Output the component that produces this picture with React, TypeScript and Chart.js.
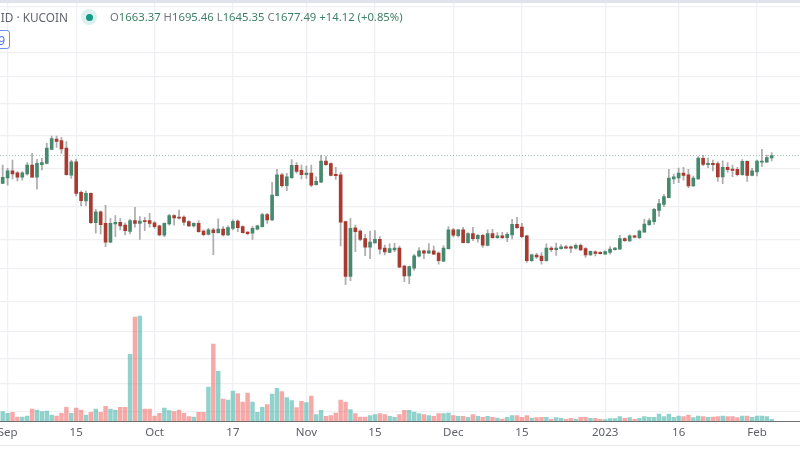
import { useEffect, useRef } from 'react';
import { Chart, registerables } from 'chart.js';

Chart.register(...registerables);

// daily ETH candles, 31 Aug 2022 -> 4 Feb 2023
const opens = [
  1521, 1550, 1589, 1578, 1554, 1572, 1622, 1554, 1624, 1632,
  1714, 1777, 1767, 1722, 1566, 1641, 1474, 1430, 1469, 1325,
  1376, 1322, 1238, 1319, 1327, 1314, 1285, 1335, 1322, 1335,
  1335, 1325, 1311, 1268, 1319, 1358, 1352, 1352, 1330, 1310,
  1322, 1287, 1272, 1292, 1280, 1296, 1269, 1299, 1333, 1307,
  1282, 1277, 1295, 1307, 1363, 1338, 1457, 1568, 1509, 1552,
  1620, 1592, 1568, 1577, 1514, 1527, 1645, 1630, 1570, 1568,
  1330, 1097, 1301, 1287, 1253, 1216, 1234, 1250, 1212, 1194,
  1204, 1212, 1138, 1099, 1130, 1178, 1201, 1191, 1201, 1191,
  1158, 1210, 1292, 1266, 1292, 1235, 1275, 1253, 1268, 1224,
  1275, 1257, 1265, 1257, 1269, 1317, 1305, 1265, 1160, 1183,
  1179, 1160, 1212, 1205, 1210, 1217, 1217, 1212, 1224, 1210,
  1183, 1196, 1194, 1187, 1194, 1205, 1208, 1253, 1243, 1265,
  1257, 1282, 1316, 1330, 1384, 1413, 1447, 1545, 1550, 1577,
  1568, 1507, 1545, 1661, 1624, 1632, 1630, 1556, 1609, 1600,
  1598, 1568, 1643, 1564, 1583, 1639, 1639, 1663.37,
];
const highs = [
  1622, 1604, 1651, 1585, 1585, 1636, 1690, 1655, 1661, 1751,
  1796, 1796, 1788, 1761, 1651, 1655, 1481, 1481, 1472, 1389,
  1382, 1408, 1346, 1358, 1346, 1325, 1341, 1399, 1354, 1350,
  1369, 1330, 1314, 1325, 1365, 1363, 1385, 1357, 1335, 1325,
  1335, 1292, 1299, 1299, 1343, 1307, 1310, 1338, 1338, 1310,
  1284, 1307, 1314, 1369, 1369, 1527, 1598, 1576, 1576, 1654,
  1637, 1622, 1617, 1622, 1557, 1678, 1671, 1636, 1609, 1581,
  1333, 1346, 1314, 1292, 1272, 1287, 1289, 1262, 1225, 1230,
  1233, 1221, 1142, 1138, 1186, 1214, 1204, 1231, 1221, 1196,
  1223, 1307, 1299, 1295, 1304, 1280, 1304, 1272, 1272, 1292,
  1295, 1280, 1281, 1280, 1341, 1350, 1322, 1269, 1187, 1190,
  1193, 1230, 1218, 1234, 1227, 1224, 1221, 1230, 1230, 1214,
  1201, 1200, 1197, 1200, 1218, 1215, 1268, 1257, 1270, 1268,
  1292, 1342, 1344, 1393, 1438, 1464, 1598, 1572, 1605, 1609,
  1598, 1561, 1671, 1678, 1663, 1651, 1641, 1647, 1636, 1622,
  1609, 1654, 1647, 1603, 1651, 1714, 1680, 1695.46,
];
const lows = [
  1519, 1512, 1545, 1534, 1539, 1566, 1552, 1490, 1594, 1628,
  1710, 1726, 1690, 1566, 1548, 1455, 1405, 1407, 1322, 1277,
  1274, 1218, 1235, 1262, 1292, 1269, 1274, 1304, 1250, 1289,
  1304, 1299, 1265, 1262, 1314, 1314, 1343, 1314, 1307, 1304,
  1281, 1265, 1269, 1184, 1277, 1265, 1266, 1292, 1284, 1277,
  1269, 1250, 1292, 1304, 1322, 1335, 1455, 1501, 1483, 1548,
  1576, 1545, 1548, 1504, 1512, 1525, 1620, 1561, 1543, 1221,
  1066, 1081, 1197, 1243, 1180, 1168, 1233, 1186, 1183, 1193,
  1197, 1132, 1077, 1070, 1122, 1175, 1168, 1190, 1184, 1146,
  1156, 1207, 1260, 1260, 1234, 1233, 1244, 1238, 1215, 1221,
  1254, 1254, 1253, 1240, 1252, 1299, 1257, 1153, 1157, 1169,
  1146, 1158, 1197, 1181, 1207, 1211, 1193, 1208, 1201, 1173,
  1181, 1179, 1187, 1186, 1187, 1203, 1207, 1241, 1241, 1256,
  1253, 1281, 1313, 1317, 1355, 1402, 1445, 1520, 1525, 1539,
  1499, 1505, 1543, 1619, 1607, 1589, 1532, 1520, 1581, 1557,
  1561, 1564, 1532, 1561, 1561, 1613, 1637, 1645.35,
];
const closes = [
  1554, 1589, 1572, 1554, 1578, 1622, 1554, 1632, 1636, 1722,
  1780, 1763, 1716, 1568, 1641, 1469, 1432, 1469, 1325, 1376,
  1316, 1238, 1322, 1327, 1310, 1289, 1335, 1322, 1333, 1330,
  1322, 1307, 1269, 1322, 1358, 1347, 1346, 1328, 1310, 1322,
  1284, 1270, 1292, 1280, 1296, 1269, 1302, 1332, 1302, 1280,
  1275, 1299, 1310, 1363, 1338, 1460, 1568, 1509, 1556, 1620,
  1587, 1568, 1577, 1512, 1532, 1645, 1624, 1564, 1563, 1328,
  1097, 1299, 1284, 1250, 1216, 1238, 1250, 1208, 1196, 1210,
  1212, 1134, 1099, 1136, 1180, 1201, 1191, 1201, 1186, 1160,
  1212, 1292, 1268, 1292, 1235, 1275, 1253, 1268, 1225, 1275,
  1257, 1265, 1257, 1272, 1317, 1302, 1262, 1160, 1184, 1175,
  1160, 1212, 1205, 1212, 1217, 1212, 1212, 1224, 1204, 1183,
  1198, 1190, 1189, 1197, 1208, 1212, 1253, 1244, 1265, 1259,
  1287, 1319, 1335, 1389, 1417, 1452, 1550, 1556, 1577, 1564,
  1507, 1550, 1663, 1626, 1632, 1624, 1556, 1609, 1596, 1592,
  1568, 1643, 1564, 1589, 1645, 1645, 1665, 1677.49,
];
const volumes = [
  29, 24, 27, 13, 13, 16, 37, 34, 29, 31,
  19, 16, 24, 42, 24, 40, 34, 19, 27, 37,
  27, 45, 37, 34, 42, 42, 201, 313, 316, 37,
  37, 16, 24, 40, 32, 29, 34, 24, 14, 13,
  27, 27, 103, 232, 150, 67, 64, 91, 83, 58,
  85, 58, 27, 42, 50, 82, 99, 89, 71, 62,
  41, 60, 56, 76, 20, 33, 15, 17, 25, 64,
  58, 35, 23, 13, 13, 17, 20, 23, 20, 15,
  12, 20, 33, 33, 28, 23, 20, 17, 15, 23,
  23, 25, 17, 15, 15, 12, 20, 15, 12, 15,
  12, 10, 7, 12, 17, 17, 12, 17, 10, 11,
  12, 12, 6, 11, 9, 6, 9, 6, 12, 12,
  9, 9, 6, 5, 8, 8, 14, 9, 11, 6,
  9, 14, 12, 12, 22, 14, 22, 12, 16, 14,
  19, 11, 16, 14, 12, 13, 14, 16, 14, 14,
  11, 16, 16, 12, 16, 16, 14, 6,
];

// days counted from 1 Sep 2022
const tickDays = [0, 14, 30, 46, 61, 75, 91, 105, 122, 137, 153];
const tickLabels = ['Sep', '15', 'Oct', '17', 'Nov', '15', 'Dec', '15', '2023', '16', 'Feb'];
const priceGrid = [2825, 2410, 2210, 2010, 1800, 1600, 1400, 1247, 1126, 1003, 903, 821, 752, 682];
const lastPrice = 1677.49;

const FIRST_DAY = -1;
const X_MIN = -1.552;
const X_MAX = 161.78;

const UP = '#47896e';
const DOWN = '#a83a30';
const GRID = '#eff0f3';
const TEXT_GREEN = '#3f7f66';
const TEXT_GREY = '#74777f';

export default function App() {
  const chartRef = useRef<HTMLCanvasElement>(null);

  useEffect(() => {
    if (!chartRef.current) return;
    const days = opens.map((_, i) => i + FIRST_DAY);
    const isUp = (i: number) => closes[i] >= opens[i];

    const chart = new Chart(chartRef.current, {
      type: 'bar',
      data: {
        datasets: [
          {
            label: 'body',
            order: 1,
            grouped: false,
            yAxisID: 'y',
            data: days.map((d, i) => ({ x: d, y: [opens[i], closes[i]] })),
            backgroundColor: days.map((_, i) => (isUp(i) ? UP : DOWN)),
            barThickness: 3,
            minBarLength: 1,
          },
          {
            label: 'wick',
            order: 2,
            grouped: false,
            yAxisID: 'y',
            data: days.map((d, i) => ({ x: d, y: [lows[i], highs[i]] })),
            backgroundColor: 'rgba(95,95,95,0.5)',
            barThickness: 1.1,
          },
          {
            type: 'line',
            label: 'last',
            order: 3,
            yAxisID: 'y',
            data: [{ x: X_MIN, y: lastPrice }, { x: X_MAX, y: lastPrice }],
            borderColor: '#a3c4b8',
            borderWidth: 1,
            borderDash: [1, 2],
            pointRadius: 0,
          },
          {
            label: 'volume',
            order: 4,
            grouped: false,
            yAxisID: 'yVol',
            data: days.map((d, i) => ({ x: d, y: volumes[i] })),
            backgroundColor: days.map((_, i) =>
              isUp(i) ? 'rgba(38,166,154,0.5)' : 'rgba(239,83,80,0.5)'
            ),
            barThickness: 3.8,
          },
        ] as any,
      },
      options: {
        responsive: false,
        animation: false,
        layout: { padding: 0 },
        plugins: { legend: { display: false }, tooltip: { enabled: false } },
        scales: {
          x: {
            type: 'linear',
            offset: false,
            min: X_MIN,
            max: X_MAX,
            grid: { color: GRID, lineWidth: 1.3, drawTicks: false, offset: false },
            border: { display: true, color: '#6f6f6f', width: 1 },
            afterBuildTicks: (scale: any) => {
              scale.ticks = tickDays.map((value) => ({ value }));
            },
            afterFit: (scale: any) => {
              scale.height = 28.7;
              scale.paddingLeft = 0;
              scale.paddingRight = 0;
            },
            ticks: {
              autoSkip: false,
              maxRotation: 0,
              padding: 5,
              color: '#5d6068',
              font: { family: 'Noto Sans', size: 11.5 },
              callback: (value: any) => tickLabels[tickDays.indexOf(value)],
            },
          },
          y: {
            type: 'logarithmic',
            min: 660,
            max: 2895,
            grid: { color: GRID, lineWidth: 1.3, drawTicks: false },
            border: { display: false },
            ticks: { display: false, autoSkip: false },
            afterBuildTicks: (scale: any) => {
              scale.ticks = priceGrid.map((value) => ({ value }));
            },
            afterFit: (scale: any) => {
              scale.width = 0;
            },
          },
          yVol: {
            type: 'linear',
            display: false,
            min: 0,
            max: 1264,
            grid: { display: false },
          },
        },
      } as any,
    });

    return () => {
      chart.destroy();
    };
  }, []);

  return (
    <div style={{ position: 'fixed', left: 0, top: 0, width: 800, height: 450, background: '#fff', overflow: 'hidden', fontFamily: 'Noto Sans' }}>
      <canvas ref={chartRef} width={800} height={450} style={{ position: 'absolute', left: 0, top: 0, display: 'block' }}></canvas>
      <div style={{ position: 'absolute', left: 0, top: 0, width: 800, height: 2.5, background: '#e0e3eb' }}></div>
      <div style={{ position: 'absolute', left: 0, top: 444.5, width: 800, height: 1.5, background: '#e6e8ef' }}></div>
      <div style={{ position: 'absolute', right: 732, top: 7, fontSize: 11.8, lineHeight: '20px', color: '#62656d', whiteSpace: 'nowrap' }}>ID · KUCOIN</div>
      <div style={{ position: 'absolute', left: 81, top: 9, width: 16, height: 16, borderRadius: 8, background: 'rgba(38,166,154,0.16)' }}></div>
      <div style={{ position: 'absolute', left: 85.5, top: 13.5, width: 7, height: 7, borderRadius: 4, background: '#149a86' }}></div>
      <div style={{ position: 'absolute', left: 110, top: 8, fontSize: 11.3, lineHeight: '18px', color: TEXT_GREEN, whiteSpace: 'nowrap' }}>
        <span style={{ color: TEXT_GREY }}>O</span>1663.37{' '}
        <span style={{ color: TEXT_GREY }}>H</span>1695.46{' '}
        <span style={{ color: TEXT_GREY }}>L</span>1645.35{' '}
        <span style={{ color: TEXT_GREY }}>C</span>1677.49{' '}
        +14.12 (+0.85%)
      </div>
      <div style={{ position: 'absolute', left: -14, top: 30, width: 24, height: 19, border: '1px solid #6d8ff5', borderRadius: 3, background: '#fff', color: '#4c74ee', fontSize: 12, lineHeight: '19px', textAlign: 'right', paddingRight: 4, boxSizing: 'border-box' }}>9</div>
    </div>
  );
}
